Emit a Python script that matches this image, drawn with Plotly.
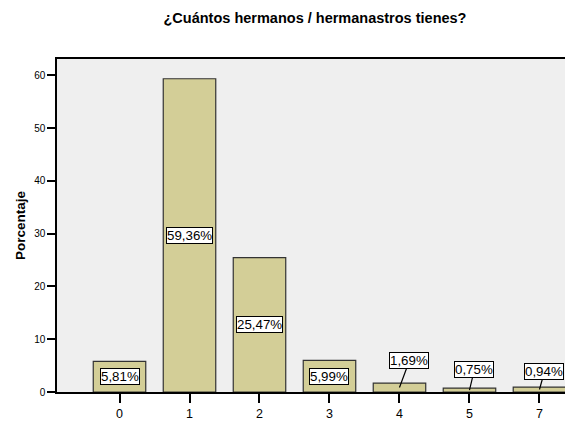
import plotly.graph_objects as go

# ---- data ----
categories = ["0", "1", "2", "3", "4", "5", "7"]
percentages = [5.81, 59.36, 25.47, 5.99, 1.69, 0.75, 0.94]
labels = ["5,81%", "59,36%", "25,47%", "5,99%", "1,69%", "0,75%", "0,94%"]
y_ticks = [0, 10, 20, 30, 40, 50, 60]

title_text = "¿Cuántos hermanos / hermanastros tienes?"
y_title = "Porcentaje"

# ---- styles ----
BAR_COLOR = "#d3ce97"
BG_COLOR = "#efefef"
FONT = "Arial, Liberation Sans, sans-serif"
# pixel offsets of callout boxes for the small bars (label placed outside)
callout_offsets = {"4": (10, -27), "5": (5, -21), "7": (5, -18)}

# the page body adds an 8px offset, so the figure is 8px smaller
FIG_W, FIG_H = 565, 413

fig = go.Figure()
fig.add_trace(go.Bar(
    x=categories,
    y=percentages,
    marker=dict(color=BAR_COLOR, line=dict(color="#333333", width=1.2)),
    hoverinfo="skip",
))

for idx, (cat, val, lab) in enumerate(zip(categories, percentages, labels)):
    common = dict(
        x=idx, y=val / 2, xref="x", yref="y",
        text=lab,
        font=dict(family=FONT, size=13.3, color="black"),
        bgcolor="white", bordercolor="black", borderwidth=1, borderpad=0,
    )
    if cat in callout_offsets:
        ax, ay = callout_offsets[cat]
        fig.add_annotation(**common, showarrow=True, arrowhead=0,
                           arrowwidth=1.2, arrowcolor="black",
                           ax=ax, ay=ay, standoff=0)
    else:
        fig.add_annotation(**common, showarrow=False,
                           xanchor="center", yanchor="middle")

fig.update_layout(
    width=FIG_W, height=FIG_H,
    margin=dict(l=49, r=0, t=51, b=27),
    paper_bgcolor="white",
    plot_bgcolor=BG_COLOR,
    bargap=0.25,
    showlegend=False,
    font=dict(family=FONT, color="black"),
    title=dict(text="<b>" + title_text + "</b>", x=0.5, xref="paper",
               y=1 - 10 / FIG_H, yref="container", xanchor="center", yanchor="middle",
               font=dict(family=FONT, size=14.5, color="black")),
)

fig.update_xaxes(
    type="category",
    range=[-0.893, 6.479],
    showgrid=False, zeroline=False,
    showline=True, linecolor="black", linewidth=1.5, mirror=True,
    ticks="outside", ticklen=9, tickwidth=1.5, tickcolor="black",
    tickfont=dict(family=FONT, size=12.5, color="black"),
)
fig.update_yaxes(
    range=[0, 63.1],
    tickvals=y_ticks,
    showgrid=False, zeroline=False,
    showline=True, linecolor="black", linewidth=1.5, mirror=False,
    ticks="outside", ticklen=8, tickwidth=1.5, tickcolor="black",
    tickfont=dict(family=FONT, size=10, color="black"),
    title=dict(text="<b>" + y_title + "</b>", standoff=5,
               font=dict(family=FONT, size=13.5, color="black")),
)

fig.write_html("out.html")
